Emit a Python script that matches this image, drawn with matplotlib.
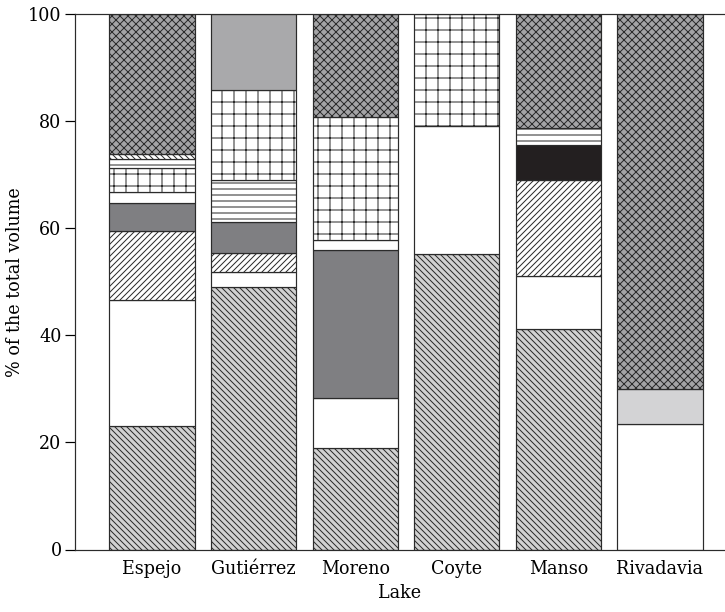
import matplotlib
matplotlib.use("Agg")

import matplotlib.pyplot as plt

lakes = ["Espejo", "Gutiérrez", "Moreno", "Coyte", "Manso", "Rivadavia"]

# stacked segments per lake, bottom to top: (fill style, % of total volume)
espejo_styles = ["diag", "white", "fwd", "dark", "white", "grid", "hline", "back", "cross"]
espejo_values = [23.0, 23.6, 12.9, 5.2, 2.1, 4.4, 1.7, 0.9, 26.2]

gutierrez_styles = ["diag", "white", "fwd", "dark", "hline", "grid", "mid"]
gutierrez_values = [49.0, 2.8, 3.5, 5.8, 7.9, 16.9, 14.1]

moreno_styles = ["diag", "white", "dark", "white", "grid", "cross"]
moreno_values = [18.9, 9.3, 27.8, 1.8, 22.9, 19.3]

coyte_styles = ["diag", "white", "grid"]
coyte_values = [55.2, 23.8, 21.0]

manso_styles = ["diag", "white", "fwd", "black", "hline", "cross"]
manso_values = [41.2, 9.8, 18.0, 6.6, 3.1, 21.3]

rivadavia_styles = ["white", "pale", "cross"]
rivadavia_values = [23.5, 6.5, 70.0]

stacks = [
    (espejo_styles, espejo_values),
    (gutierrez_styles, gutierrez_values),
    (moreno_styles, moreno_values),
    (coyte_styles, coyte_values),
    (manso_styles, manso_values),
    (rivadavia_styles, rivadavia_values),
]

# fill colour and hatch for each style
STYLE = {
    "diag": ("#d2d2d2", "\\\\\\\\"),
    "white": ("white", None),
    "fwd": ("white", "////"),
    "dark": ("#7f7f82", None),
    "grid": ("white", "+"),
    "hline": ("white", "--"),
    "back": ("white", "\\\\\\\\"),
    "cross": ("#a4a4a6", "xxx"),
    "mid": ("#a9a9ab", None),
    "black": ("#231f20", None),
    "pale": ("#d3d3d5", None),
}

plt.rcParams["font.family"] = ["DejaVu Serif"]
plt.rcParams["hatch.linewidth"] = 1.0

fig = plt.figure(figsize=(725 / 72, 612 / 72), dpi=72)
ax = fig.add_axes([75 / 725, 62.5 / 612, 650 / 725, 535.5 / 612])

for i, (styles, values) in enumerate(stacks):
    bottom = 0.0
    for s, v in zip(styles, values):
        face, hatch = STYLE[s]
        ax.bar(i, v, bottom=bottom, width=0.84, color=face, hatch=hatch,
               edgecolor="#2b2b2b", linewidth=1.2)
        bottom += v

ax.set_xlim(-0.758, 5.64)
ax.set_ylim(0, 100)
ax.set_xticks(range(len(lakes)))
ax.set_xticklabels(lakes, fontsize=17.5)
ax.set_yticks([0, 20, 40, 60, 80, 100])
ax.tick_params(axis="y", labelsize=17.5, length=10, width=1.2, direction="out")
ax.tick_params(axis="x", length=0, pad=10)
ax.spines["right"].set_visible(False)
for sp in ("left", "top", "bottom"):
    ax.spines[sp].set_linewidth(1.2)
    ax.spines[sp].set_color("#2b2b2b")
ax.set_xlabel("Lake", fontsize=17.5, labelpad=6)
ax.set_ylabel("% of the total volume", fontsize=17.5, labelpad=4)

fig.savefig("out.png", dpi=72)
